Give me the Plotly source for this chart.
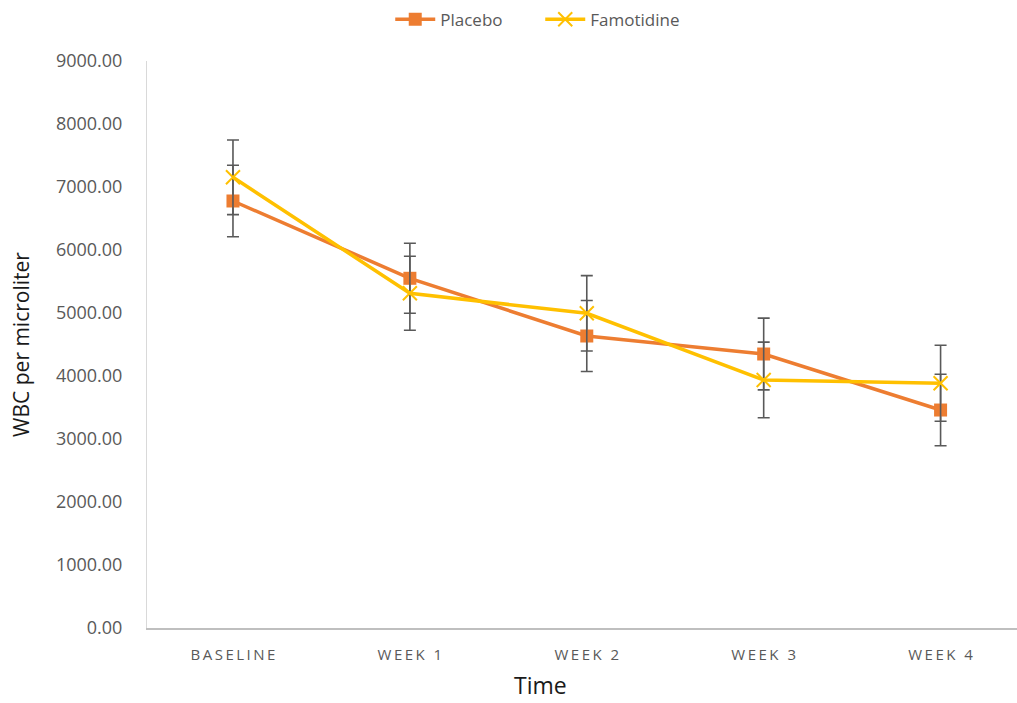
import plotly.graph_objects as go

# Time points and mean WBC counts (per microliter) with error bar half-widths
time_points = ["BASELINE", "WEEK 1", "WEEK 2", "WEEK 3", "WEEK 4"]
placebo_mean = [6778, 5551, 4635, 4349, 3460]
placebo_err = [568, 556, 563, 570, 567]
famotidine_mean = [7154, 5313, 4995, 3937, 3884]
famotidine_err = [593, 587, 598, 600, 603]

y_ticks = [0, 1000, 2000, 3000, 4000, 5000, 6000, 7000, 8000, 9000]

# spaced-out capitals for the category labels
THIN = "\u2009"
tick_text = [THIN.join(list(t)) for t in time_points]

ORANGE = "#ED7D31"
GOLD = "#FFC000"
GREY = "#595959"

fig = go.Figure()

fig.add_trace(go.Scatter(
    x=list(range(len(time_points))), y=placebo_mean, name="Placebo",
    mode="lines+markers",
    line=dict(color=ORANGE, width=3.5),
    marker=dict(symbol="square", size=13, color=ORANGE),
    error_y=dict(type="data", array=placebo_err, visible=True,
                 color=GREY, thickness=1.6, width=6),
))

fig.add_trace(go.Scatter(
    x=list(range(len(time_points))), y=famotidine_mean, name="Famotidine",
    mode="lines+markers",
    line=dict(color=GOLD, width=3.5),
    marker=dict(symbol="x-thin", size=14, line=dict(color=GOLD, width=2)),
    error_y=dict(type="data", array=famotidine_err, visible=True,
                 color=GREY, thickness=1.6, width=6),
))

fig.update_layout(
    width=1017, height=703,
    margin=dict(l=147, r=0, t=61, b=75, autoexpand=False),
    paper_bgcolor="white", plot_bgcolor="white",
    font=dict(family="Open Sans", color=GREY),
    showlegend=True,
    legend=dict(
        orientation="h", x=0.452, xanchor="center",
        yref="container", y=0.972, yanchor="middle",
        font=dict(size=17, color=GREY), itemwidth=40,
        entrywidth=95, entrywidthmode="pixels",
        traceorder="normal",
    ),
    annotations=[dict(
        text="Time", x=0.452, xref="paper", y=-0.1323, yref="paper",
        xanchor="center", yanchor="bottom", showarrow=False,
        font=dict(size=23, color="#1a1a1a"),
    )],
)

fig.update_xaxes(
    range=[-0.486, 4.432],
    tickmode="array", tickvals=list(range(len(time_points))), ticktext=tick_text,
    tickfont=dict(size=15, color=GREY),
    showgrid=False, zeroline=False,
    showline=True, linecolor="#BFBFBF", linewidth=1.5,
    ticks="outside", ticklen=0, ticklabelstandoff=12,
)

fig.update_yaxes(
    range=[0, 9000],
    tickmode="array", tickvals=y_ticks,
    ticktext=[f"{v:.2f}" for v in y_ticks],
    tickfont=dict(size=18, color=GREY),
    showgrid=False, zeroline=False,
    showline=True, linecolor="#D9D9D9", linewidth=1,
    ticks="outside", ticklen=0, ticklabelstandoff=20,
    title=dict(text="WBC per microliter", font=dict(size=21, color="#1a1a1a"),
               standoff=20),
)

fig.write_html("out.html")
